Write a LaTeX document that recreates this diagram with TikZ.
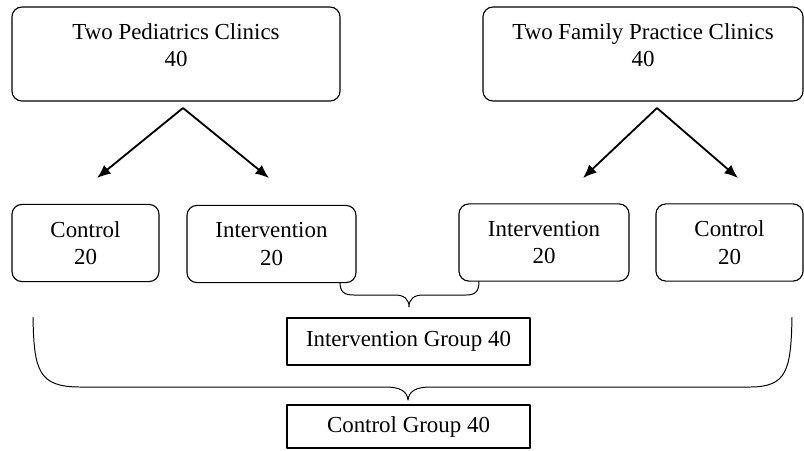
\documentclass[tikz,border=0pt]{standalone}
\usepackage{fontspec}
\setmainfont{Liberation Serif}
\usetikzlibrary{arrows.meta}
\begin{document}
\begin{tikzpicture}[x=0.025cm, y=-0.025cm, font=\fontsize{16.3}{19.5}\selectfont, line join=round,
	every node/.style={align=center, inner sep=0pt, outer sep=0pt},
	clinic/.style={draw, line width=0.8pt, rounded corners=0.25cm, minimum height=2.35cm, text depth=0.45cm},
	arm/.style={draw, line width=0.8pt, rounded corners=0.25cm, minimum height=1.93cm},
	group/.style={draw, line width=0.8pt},
	split/.style={-{Latex[length=0.34cm, width=0.28cm]}, line width=1.3pt},
	brace/.style={line width=0.7pt}]
	
	\useasboundingbox (0,0) rectangle (804,450);
	
	% Kliniken oben
	\node[clinic, minimum width=8.2cm] (peds) at (176, 54) {Two Pediatrics Clinics\\40};
	\node[clinic, minimum width=8.0cm] (fam) at (643, 54) {Two Family Practice Clinics\\40};
	
	% Aufteilung
	\coordinate (pedsfork) at (183, 108);
	\coordinate (famfork) at (657, 108);
	\coordinate (pedsctrltip) at (97, 178);
	\coordinate (pedsinttip) at (269, 178);
	\coordinate (faminttip) at (583, 178);
	\coordinate (famctrltip) at (738, 178);
	\draw[split] (pedsfork) -- (pedsctrltip);
	\draw[split] (pedsfork) -- (pedsinttip);
	\draw[split] (famfork) -- (faminttip);
	\draw[split] (famfork) -- (famctrltip);
	
	% Arme
	\node[arm, minimum width=3.675cm] (pedsctrl) at (85.5, 243) {Control\\20};
	\node[arm, minimum width=4.225cm] (pedsint) at (271.5, 244) {Intervention\\20};
	\node[arm, minimum width=4.25cm] (famint) at (544, 242.5) {Intervention\\20};
	\node[arm, minimum width=3.675cm] (famctrl) at (729.5, 242.5) {Control\\20};
	
	% Gruppen
	\node[group, minimum width=6.075cm, minimum height=1.175cm] (intgroup) at (408.5, 341.5) {Intervention Group 40};
	\node[group, minimum width=6.075cm, minimum height=1.075cm] (ctrlgroup) at (408.5, 426.5) {Control Group 40};
	
	% Klammern
	\coordinate (intleft) at (340, 282);
	\coordinate (intright) at (479, 281);
	\coordinate (inttip) at (409, 307);
	\draw[brace] (intleft) .. controls (340, 292) and (344, 295) .. (354, 295)
		-- (395, 295) .. controls (404, 295) and (409, 299) .. (inttip)
		.. controls (409, 299) and (414, 295) .. (423, 295)
		-- (466, 295) .. controls (476, 295) and (479, 291) .. (intright);
	
	\coordinate (ctrlleft) at (33, 317);
	\coordinate (ctrlright) at (792, 317);
	\coordinate (ctrltip) at (408, 400);
	\draw[brace] (ctrlleft) .. controls (34, 370) and (38, 387) .. (80, 387)
		-- (385, 387) .. controls (400, 387) and (407, 391) .. (ctrltip)
		.. controls (409, 391) and (416, 387) .. (431, 387)
		-- (750, 387) .. controls (787, 387) and (791, 370) .. (ctrlright);
\end{tikzpicture}
\end{document}
